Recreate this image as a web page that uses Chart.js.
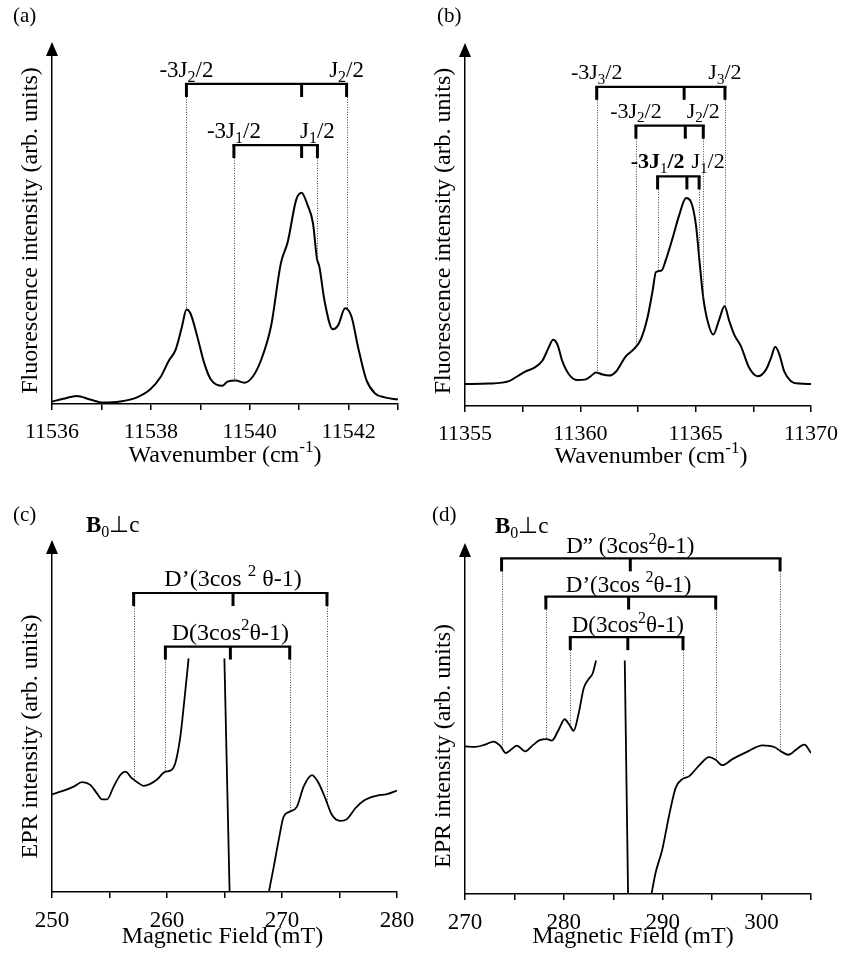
<!DOCTYPE html>
<html>
<head>
<meta charset="utf-8">
<script src="https://cdn.jsdelivr.net/npm/chart.js@4.4.0/dist/chart.umd.min.js"></script>
<style>
  body { margin: 0; background: #fff; width: 844px; height: 961px; position: relative; overflow: hidden; }
  .panel { position: absolute; width: 422px; height: 480px; }
</style>
</head>
<body>
<div class="panel" style="left:0;top:0"><canvas id="chartA" width="422" height="480"></canvas></div>
<div class="panel" style="left:422px;top:0"><canvas id="chartB" width="422" height="480"></canvas></div>
<div class="panel" style="left:0;top:480px"><canvas id="chartC" width="422" height="480"></canvas></div>
<div class="panel" style="left:422px;top:480px"><canvas id="chartD" width="422" height="480"></canvas></div>
<script>
// ---- (a) fluorescence, wavenumber in cm-1, intensity in arb. units
const aWave = [11536.00, 11536.23, 11536.50, 11536.77, 11537.04, 11537.38, 11537.72, 11537.99, 11538.20, 11538.36,
  11538.50, 11538.63, 11538.72, 11538.80, 11538.94, 11539.08, 11539.21, 11539.45, 11539.55, 11539.72,
  11539.89, 11540.06, 11540.23, 11540.43, 11540.63, 11540.77, 11540.94, 11541.05, 11541.17, 11541.28,
  11541.36, 11541.41, 11541.51, 11541.68, 11541.79, 11541.93, 11542.06, 11542.19, 11542.36, 11542.53,
  11542.73, 11543.00];
const aInt = [0.7, 1.5, 2.3, 1.3, 0.4, 0.7, 1.9, 4.2, 7.8, 12.3,
  15.5, 22.2, 27.1, 26.0, 19.3, 11.7, 7.1, 5.2, 6.4, 6.7,
  6.1, 7.8, 12.6, 22.2, 40.3, 46.5, 58.5, 60.5, 57.0, 51.8,
  41.7, 39.3, 29.8, 21.4, 22.6, 27.4, 25.0, 16.4, 6.9, 3.1,
  1.9, 1.3];
const aBrLeft = [11538.72, 11539.68];
const aBrMid = [11541.05, 11541.05];
const aBrRight = [11541.96, 11541.37];
const aBrLevel = [91.7, 74.2];
const aBrLabelL = ['-3J_{2}/2', '-3J_{1}/2'];
const aBrLabelR = ['J_{2}/2', 'J_{1}/2'];

// ---- (b) fluorescence
const bWave = [11355.00, 11356.04, 11356.91, 11357.27, 11357.63, 11357.99, 11358.36, 11358.62, 11358.82, 11359.01,
  11359.22, 11359.51, 11359.87, 11360.24, 11360.45, 11360.67, 11360.96, 11361.25, 11361.54, 11361.97,
  11362.33, 11362.62, 11362.91, 11363.13, 11363.28, 11363.52, 11363.71, 11364.00, 11364.29, 11364.58,
  11364.79, 11365.01, 11365.18, 11365.33, 11365.52, 11365.76, 11366.02, 11366.25, 11366.46, 11366.67,
  11366.96, 11367.32, 11367.69, 11368.05, 11368.27, 11368.45, 11368.63, 11368.84, 11369.13, 11369.49,
  11370.00];
const bInt = [6.3, 6.4, 7.1, 8.5, 9.9, 10.9, 13.0, 16.6, 18.9, 17.5,
  12.8, 9.0, 7.4, 7.6, 8.5, 9.6, 9.0, 8.7, 9.8, 14.2,
  16.3, 19.0, 25.2, 32.8, 38.3, 38.7, 41.8, 48.0, 54.6, 59.4,
  58.4, 51.8, 40.4, 30.9, 24.2, 20.4, 24.7, 28.5, 24.2, 20.4,
  17.1, 10.9, 8.5, 10.4, 13.8, 16.9, 14.7, 9.9, 7.1, 6.4,
  6.3];
const bBrLeft = [11360.71, 11362.41, 11363.35];
const bBrMid = [11364.50, 11364.55, 11364.62];
const bBrRight = [11366.27, 11365.33, 11365.15];
const bBrLevel = [91.2, 80.1, 65.6];
const bBrLabelL = ['-3J_{3}/2', '-3J_{2}/2', '*{-3J}_{1}*{/2}'];
const bBrLabelR = ['J_{3}/2', 'J_{2}/2', 'J_{1}/2'];

// ---- (c) EPR, field in mT (null = trace leaves the frame)
const cField = [250.0, 251.01, 251.88, 252.61, 253.33, 253.91, 254.35, 254.78, 255.36, 255.94,
  256.38, 256.96, 257.54, 257.97, 258.55, 259.13, 259.86, 260.29, 260.72, 261.16,
  261.51, 261.88, 263.5, 264.99, 265.45, 267.0, 268.80, 269.28, 269.71, 270.14,
  270.67, 271.30, 271.88, 272.61, 273.19, 273.77, 274.35, 275.07, 275.65, 276.38,
  277.10, 278.12, 279.13, 280.0];
const cEpr = [28.8, 29.9, 31.1, 32.4, 31.6, 29.1, 27.3, 27.3, 31.1, 34.5,
  35.5, 33.5, 32.1, 31.3, 31.9, 33.2, 35.5, 35.8, 38.0, 45.8,
  56.6, 68.9, null, 68.9, -1, null, -1, 7.4, 15.3, 22.2,
  23.7, 25.2, 31.1, 34.5, 32.1, 27.6, 22.7, 21.0, 21.5, 24.7,
  26.9, 28.3, 28.9, 29.9];
const cBrLeft = [257.1, 259.86];
const cBrMid = [265.74, 265.51];
const cBrRight = [273.91, 270.67];
const cBrLevel = [88.2, 72.4];
const cBrLabel = ['D\u2019(3cos ^{2} \u03B8-1)', 'D(3cos^{2}\u03B8-1)'];

// ---- (d) EPR
const dField = [270.0, 271.01, 272.03, 272.87, 273.55, 274.13, 274.73, 275.24, 276.09, 276.93,
  277.61, 278.29, 278.79, 279.47, 280.08, 280.55, 280.99, 281.50, 282.01, 282.51,
  282.92, 283.26, 284.7, 286.16, 286.50, 287.7, 288.80, 289.28, 289.95, 290.63,
  291.31, 291.98, 292.66, 293.67, 294.69, 295.36, 296.04, 297.05, 298.41, 300.10,
  301.28, 301.96, 302.74, 303.48, 304.33, 305.0];
const dEpr = [43.7, 43.5, 44.2, 45.1, 43.9, 41.7, 42.9, 43.9, 42.2, 44.2,
  45.6, 45.8, 45.4, 48.6, 51.7, 50.1, 48.3, 53.5, 60.9, 63.6,
  65.3, 69.1, null, 69.1, -1, null, -1, 6.3, 13.1, 23.0,
  31.4, 34.0, 34.8, 38.0, 40.5, 39.7, 38.1, 39.9, 41.9, 44.0,
  43.5, 42.2, 41.2, 42.7, 44.2, 41.7];
const dBrLeft = [273.70, 278.18, 280.65];
const dBrMid = [286.72, 286.55, 286.47];
const dBrRight = [301.87, 295.36, 292.05];
const dBrLevel = [99.3, 88.0, 76.0];
const dBrLabel = ['D\u201D (3cos^{2}\u03B8-1)', 'D\u2019(3cos ^{2}\u03B8-1)', 'D(3cos^{2}\u03B8-1)'];

const FONT = '"Liberation Serif", "Times New Roman", serif';

// tiny markup: _{..} subscript, ^{..} superscript, *{..} bold
function richParts(str) {
  const parts = [];
  const re = /([_^*])\{([^}]*)\}|([^_^*]+)/g;
  let m;
  while ((m = re.exec(str))) {
    if (m[3]) parts.push({ t: m[3], mode: 'n' });
    else parts.push({ t: m[2], mode: m[1] === '_' ? 'sub' : m[1] === '^' ? 'sup' : 'bold' });
  }
  return parts;
}

function drawRich(ctx, str, x, y, size, align) {
  const parts = richParts(str);
  const fontFor = p => {
    const small = p.mode === 'sub' || p.mode === 'sup';
    return (p.mode === 'bold' ? 'bold ' : '') + (small ? Math.round(size * 0.7) : size) + 'px ' + FONT;
  };
  let total = 0;
  parts.forEach(p => { ctx.font = fontFor(p); p.w = ctx.measureText(p.t).width; total += p.w; });
  let cx = align === 'center' ? x - total / 2 : x;
  ctx.textAlign = 'left';
  ctx.textBaseline = 'alphabetic';
  parts.forEach(p => {
    ctx.font = fontFor(p);
    const dy = p.mode === 'sub' ? size * 0.22 : p.mode === 'sup' ? -size * 0.4 : 0;
    ctx.fillText(p.t, cx, y + dy);
    cx += p.w;
  });
}

// value of the trace at xv, read along the straight segments between points
function curveAt(xs, ys, xv) {
  for (let i = 0; i < xs.length - 1; i++) {
    if (ys[i] == null || ys[i + 1] == null) continue;
    if (xv >= xs[i] && xv <= xs[i + 1]) {
      const f = (xv - xs[i]) / (xs[i + 1] - xs[i]);
      return ys[i] + f * (ys[i + 1] - ys[i]);
    }
  }
  return 0;
}

const figurePlugin = {
  id: 'figure',
  afterDraw(chart, args, o) {
    const { ctx, chartArea: a } = chart;
    const sx = chart.scales.x, sy = chart.scales.y;
    ctx.save();
    ctx.fillStyle = '#000';
    ctx.strokeStyle = '#000';

    // arrow head on the y axis
    ctx.beginPath();
    ctx.moveTo(a.left, a.top - 13);
    ctx.lineTo(a.left - 6, a.top + 1);
    ctx.lineTo(a.left + 6, a.top + 1);
    ctx.closePath();
    ctx.fill();

    // x tick labels, only on the major ticks
    ctx.font = o.tickFont + 'px ' + FONT;
    ctx.textAlign = 'center';
    ctx.textBaseline = 'alphabetic';
    sx.ticks.forEach(t => {
      const q = t.value / o.labelStep;
      if (Math.abs(q - Math.round(q)) < 1e-6) {
        ctx.fillText(String(t.value), sx.getPixelForValue(t.value), a.bottom + o.tickBase);
      }
    });

    // dotted drop lines
    const br = o.br;
    ctx.lineWidth = 1;
    ctx.setLineDash([1, 1.5]);
    ctx.strokeStyle = '#444';
    br.level.forEach((lev, i) => {
      const yTop = sy.getPixelForValue(lev) + 13;
      [br.left[i], br.right[i]].forEach(xv => {
        const px = Math.round(sx.getPixelForValue(xv)) + 0.5;
        ctx.beginPath();
        ctx.moveTo(px, yTop);
        ctx.lineTo(px, sy.getPixelForValue(curveAt(o.xs, o.ys, xv)));
        ctx.stroke();
      });
    });
    ctx.setLineDash([]);
    ctx.strokeStyle = '#000';

    // brackets with their labels
    br.level.forEach((lev, i) => {
      const yl = sy.getPixelForValue(lev);
      const x1 = sx.getPixelForValue(br.left[i]);
      const xm = sx.getPixelForValue(br.mid[i]);
      const x2 = sx.getPixelForValue(br.right[i]);
      ctx.lineWidth = 2.2;
      ctx.beginPath();
      ctx.moveTo(x1 - 1.5, yl);
      ctx.lineTo(x2 + 1.5, yl);
      ctx.stroke();
      ctx.lineWidth = 3;
      [x1, xm, x2].forEach(px => {
        ctx.beginPath();
        ctx.moveTo(px, yl);
        ctx.lineTo(px, yl + 13);
        ctx.stroke();
      });
      const by = yl - o.labelGap;
      if (br.labelL) {
        drawRich(ctx, br.labelL[i], x1, by, o.labelSize, 'center');
        drawRich(ctx, br.labelR[i], x2 + (o.rightDx ? o.rightDx[i] : 0), by, o.labelSize, 'center');
      } else {
        drawRich(ctx, br.label[i], xm, by, o.labelSize, 'center');
      }
    });

    // axis titles
    drawRich(ctx, o.xTitle, (a.left + a.right) / 2 + o.xTitleDx, a.bottom + o.xTitleDy, 24, 'center');
    ctx.save();
    ctx.translate(a.left - 15, (a.top + a.bottom) / 2 + o.yTitleDy);
    ctx.rotate(-Math.PI / 2);
    drawRich(ctx, o.yTitle, 0, 0, 24, 'center');
    ctx.restore();

    // panel letter and field orientation
    drawRich(ctx, o.letter, o.letterX, o.letterY, 21, 'left');
    if (o.note) drawRich(ctx, o.note, o.noteX, o.noteY, 23, 'left');
    ctx.restore();
  }
};

function makePanel(p) {
  new Chart(document.getElementById(p.id), {
    type: 'line',
    data: {
      datasets: [{
        data: p.xs.map((v, i) => ({ x: v, y: p.ys[i] })),
        borderColor: '#000',
        borderWidth: p.lineWidth,
        pointRadius: 0,
        cubicInterpolationMode: 'monotone',
        spanGaps: false,
        fill: false
      }]
    },
    options: {
      responsive: false,
      animation: false,
      devicePixelRatio: 1,
      layout: { padding: { top: p.area.top, right: 422 - p.area.right, left: 0, bottom: 0 } },
      plugins: {
        legend: { display: false },
        tooltip: { enabled: false },
        figure: p
      },
      scales: {
        x: {
          type: 'linear',
          min: p.xMin,
          max: p.xMax,
          grid: { display: true, drawOnChartArea: false, drawTicks: true, tickLength: 6, color: '#000', lineWidth: 1.5 },
          border: { display: true, color: '#000', width: 1.5 },
          ticks: { stepSize: p.step, autoSkip: false, maxRotation: 0, display: false },
          afterFit: s => { s.height = 480 - p.area.bottom; }
        },
        y: {
          min: 0,
          max: 100,
          grid: { display: false },
          border: { display: true, color: '#000', width: 1.5 },
          ticks: { display: false },
          afterFit: s => { s.width = p.area.left; }
        }
      }
    },
    plugins: [figurePlugin]
  });
}

makePanel({
  id: 'chartA', letter: '(a)', letterX: 13, letterY: 22,
  area: { left: 52, right: 398, top: 55, bottom: 404 },
  xMin: 11536, xMax: 11543, step: 1, labelStep: 2, tickFont: 22, tickBase: 34,
  xs: aWave, ys: aInt, lineWidth: 2,
  xTitle: 'Wavenumber (cm^{-1})', xTitleDx: 0, xTitleDy: 58,
  yTitle: 'Fluorescence intensity (arb. units)', yTitleDy: 1,
  br: { left: aBrLeft, mid: aBrMid, right: aBrRight, level: aBrLevel, labelL: aBrLabelL, labelR: aBrLabelR },
  labelGap: 7, labelSize: 23
});

makePanel({
  id: 'chartB', letter: '(b)', letterX: 15, letterY: 22,
  area: { left: 43, right: 389, top: 56, bottom: 406 },
  xMin: 11355, xMax: 11370, step: 2.5, labelStep: 5, tickFont: 22, tickBase: 34,
  xs: bWave, ys: bInt, lineWidth: 2,
  xTitle: 'Wavenumber (cm^{-1})', xTitleDx: 13, xTitleDy: 57,
  yTitle: 'Fluorescence intensity (arb. units)', yTitleDy: 0,
  br: { left: bBrLeft, mid: bBrMid, right: bBrRight, level: bBrLevel, labelL: bBrLabelL, labelR: bBrLabelR },
  rightDx: [0, 0, 9],
  labelGap: 8, labelSize: 22
});

makePanel({
  id: 'chartC', letter: '(c)', letterX: 13, letterY: 41,
  note: '*{B}_{0}\u22A5c', noteX: 86, noteY: 52,
  area: { left: 52, right: 397, top: 73, bottom: 412 },
  xMin: 250, xMax: 280, step: 5, labelStep: 10, tickFont: 23, tickBase: 35,
  xs: cField, ys: cEpr, lineWidth: 1.8,
  xTitle: 'Magnetic Field (mT)', xTitleDx: -2, xTitleDy: 51,
  yTitle: 'EPR intensity (arb. units)', yTitleDy: 14,
  br: { left: cBrLeft, mid: cBrMid, right: cBrRight, level: cBrLevel, label: cBrLabel },
  labelGap: 7, labelSize: 24
});

makePanel({
  id: 'chartD', letter: '(d)', letterX: 10, letterY: 41,
  note: '*{B}_{0}\u22A5c', noteX: 73, noteY: 53,
  area: { left: 43, right: 389, top: 76, bottom: 414 },
  xMin: 270, xMax: 305, step: 5, labelStep: 10, tickFont: 23, tickBase: 35,
  xs: dField, ys: dEpr, lineWidth: 1.8,
  xTitle: 'Magnetic Field (mT)', xTitleDx: -5, xTitleDy: 49,
  yTitle: 'EPR intensity (arb. units)', yTitleDy: 21,
  br: { left: dBrLeft, mid: dBrMid, right: dBrRight, level: dBrLevel, label: dBrLabel },
  labelGap: 5, labelSize: 23
});
</script>
</body>
</html>
